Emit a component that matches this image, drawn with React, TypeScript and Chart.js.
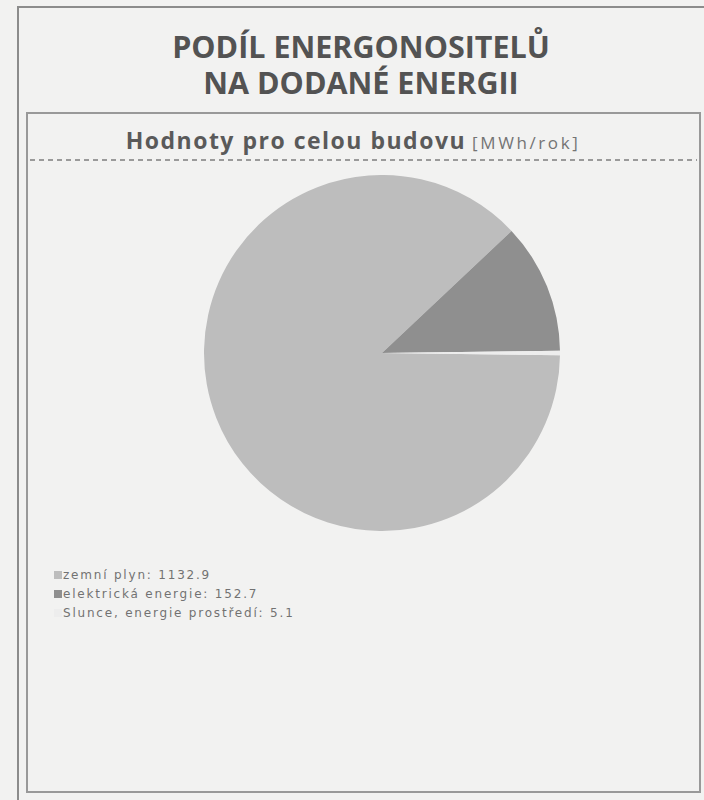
import React, { useEffect, useRef } from "react";
import { Chart, registerables } from "chart.js";

Chart.register(...registerables);

const categories = ["zemní plyn", "elektrická energie", "Slunce, energie prostředí"];
const values = [1132.9, 152.7, 5.1];
const colors = ["#bdbdbd", "#8f8f8f", "#ededed"];
const titleLines = ["PODÍL ENERGONOSITELŮ", "NA DODANÉ ENERGII"];
const subtitle = "Hodnoty pro celou budovu";
const unit = "[MWh/rok]";

export default function App() {
  const canvasRef = useRef<HTMLCanvasElement | null>(null);

  useEffect(() => {
    if (!canvasRef.current) return;
    const chart = new Chart(canvasRef.current, {
      type: "pie",
      data: {
        labels: categories,
        datasets: [
          {
            data: values,
            backgroundColor: colors,
            borderWidth: 0,
            hoverOffset: 0,
          },
        ],
      },
      options: {
        animation: false,
        responsive: false,
        maintainAspectRatio: false,
        devicePixelRatio: 1,
        events: [],
        rotation: 90.7,
        layout: { padding: 0 },
        plugins: {
          legend: { display: false },
          tooltip: { enabled: false },
        },
      },
    });
    return () => chart.destroy();
  }, []);

  const fmt = (v: number) => v.toFixed(1);

  return (
    <div
      style={{
        position: "absolute",
        left: 0,
        top: 0,
        width: 704,
        height: 800,
        overflow: "hidden",
        background: "#f2f2f1",
      }}
    >
      {/* outer frame */}
      <div
        style={{
          position: "absolute",
          left: 17,
          top: 6,
          width: 700,
          height: 820,
          border: "2px solid #8c8c8c",
          boxSizing: "border-box",
        }}
      />
      {/* inner box */}
      <div
        style={{
          position: "absolute",
          left: 26,
          top: 112,
          width: 675,
          height: 681,
          border: "2px solid #999",
          boxSizing: "border-box",
        }}
      />
      {titleLines.map((t, i) => (
        <div
          key={t}
          style={{
            position: "absolute",
            left: 0,
            width: 722,
            top: 31 + i * 36,
            textAlign: "center",
            fontFamily: "'Open Sans', sans-serif",
            fontWeight: 700,
            fontSize: 30.5,
            lineHeight: "30.5px",
            color: "#535353",
            whiteSpace: "nowrap",
          }}
        >
          {t}
        </div>
      ))}
      <div
        style={{
          position: "absolute",
          left: 0,
          width: 706,
          top: 129,
          textAlign: "center",
          fontFamily: "'Open Sans', sans-serif",
          color: "#5a5a5a",
          whiteSpace: "nowrap",
          lineHeight: "23px",
        }}
      >
        <span style={{ fontWeight: 700, fontSize: 23, letterSpacing: "1.5px" }}>{subtitle}</span>
        <span style={{ fontWeight: 400, fontSize: 17, letterSpacing: "2.6px", color: "#747474", marginLeft: 6 }}>
          {unit}
        </span>
      </div>
      <div
        style={{
          position: "absolute",
          left: 30,
          top: 159,
          width: 667,
          height: 2,
          background: "repeating-linear-gradient(to right, #9a9a9a 0 5px, transparent 5px 9px)",
        }}
      />
      <canvas
        ref={canvasRef}
        width={356}
        height={356}
        style={{ position: "absolute", left: 204, top: 175, width: 356, height: 356 }}
      />
      <div
        style={{
          position: "absolute",
          left: 54,
          top: 565,
          fontFamily: "'DejaVu Sans', Verdana, sans-serif",
          fontSize: 12,
          letterSpacing: "1.8px",
          color: "#727272",
        }}
      >
        {categories.map((c, i) => (
          <div key={c} style={{ display: "flex", alignItems: "center", height: 19, whiteSpace: "nowrap" }}>
            <span
              style={{
                display: "inline-block",
                width: 8,
                height: 8,
                background: colors[i],
                marginRight: 1,
              }}
            />
            <span>
              {c}: {fmt(values[i])}
            </span>
          </div>
        ))}
      </div>
    </div>
  );
}
